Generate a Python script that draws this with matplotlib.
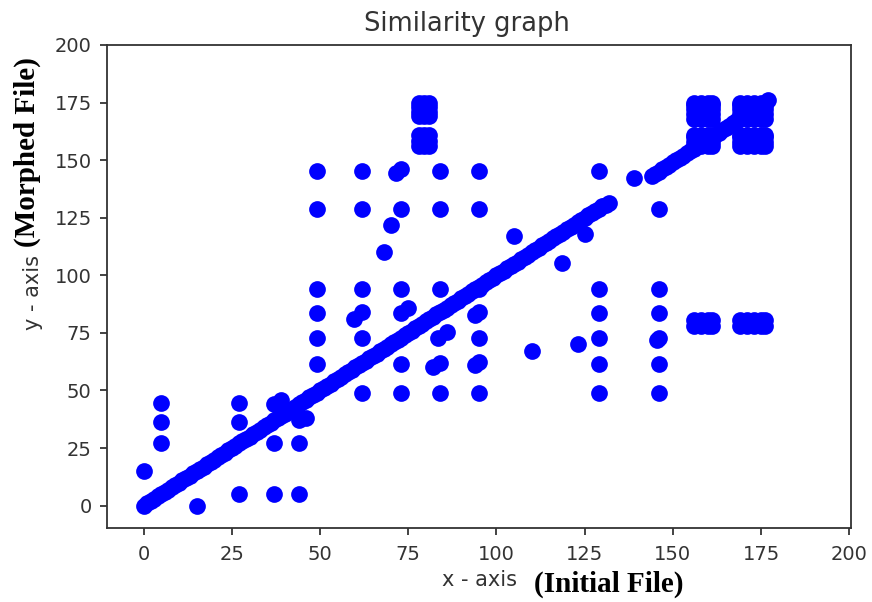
import itertools
import matplotlib
matplotlib.use("Agg")
import matplotlib.pyplot as plt

# ---------------- data ----------------
# main diagonal chain (identical lines), lower segment
diag_lo_x = [0, 1, 2, 3, 4, 5, 6, 7, 8, 9, 10, 11, 12, 13, 14, 15, 16, 17, 18, 19, 20,
             21, 22, 23, 24, 25, 26, 27, 28, 29, 30, 31, 32, 33, 34, 35, 36, 37, 38, 39,
             40, 41, 42, 43, 44, 45, 46, 47, 48, 49, 50, 51, 52, 53, 54, 55, 56, 57, 58,
             59, 60, 61, 62, 63, 64, 65, 66, 67, 68, 69, 70, 71, 72, 73, 74, 75, 76, 77,
             78, 79, 80, 81, 82, 83, 84, 85, 86, 87, 88, 89, 90, 91, 92, 93, 94, 95, 96,
             97, 98, 99, 100, 101, 102, 103, 104, 105, 106, 107, 108, 109, 110, 111, 112,
             113, 114, 115, 116, 117, 118, 119, 120, 121, 122, 123, 124, 125, 126, 127,
             128, 129, 130, 131, 132]
diag_lo_y = [0, 1, 2, 3, 4, 5, 6, 7, 8, 9, 10, 11, 12, 13, 14, 15, 16, 17, 18, 19, 20,
             21, 22, 23, 24, 25, 26, 27, 28, 29, 30, 31, 32, 33, 34, 35, 36, 37, 38, 39,
             40, 41, 42, 43, 44, 45, 46, 47, 48, 49, 50, 51, 52, 53, 54, 55, 56, 57, 58,
             59, 60, 61, 62, 63, 64, 65, 66, 67, 68, 69, 70, 71, 72, 73, 74, 75, 76, 77,
             78, 79, 80, 81, 82, 83, 84, 85, 86, 87, 88, 89, 90, 91, 92, 93, 94, 95, 96,
             97, 98, 99, 100, 101, 102, 103, 104, 105, 106, 107, 108, 109, 110, 111, 112,
             113, 114, 115, 116, 117, 118, 119, 120, 121, 122, 123, 124, 125, 126, 127,
             128, 129, 130, 130.5, 131.5]
# upper segment of the diagonal
diag_hi_x = [144, 145, 146, 147, 148, 149, 150, 151, 152, 153, 154, 155, 156, 157, 158,
             159, 160, 161, 162, 163, 164, 165, 166, 167, 168, 169, 170, 171, 172, 173,
             174, 175, 176, 177]
diag_hi_y = [143, 144, 145, 146, 147, 148, 149, 150, 151, 152, 153, 154, 155, 156, 157,
             158, 159, 160, 161, 162, 163, 164, 165, 166, 167, 168, 169, 170, 171, 172,
             173, 174, 175, 176]

# isolated similar-line points
pts_x = [0, 15,
         5, 5, 5,
         27, 27, 27,
         37, 39, 37, 37,
         44, 46, 44, 44,
         49, 49, 49, 49, 49, 49,
         62, 62, 62, 59.5, 62, 62, 62,
         71.5, 73, 73, 73, 73, 75, 73, 73,
         84, 84, 84, 83.5, 86, 82, 84, 84,
         95, 95, 95, 94, 95, 95, 94, 95, 95,
         68, 70, 105, 110, 118.5, 123, 125,
         129, 139, 146,
         129, 129, 129, 129, 129,
         146, 146, 146, 145.5, 146, 146]
pts_y = [15, 0,
         44.5, 36.5, 27,
         44.5, 36.5, 5,
         44, 46, 27, 5,
         37, 38, 27, 5,
         145.5, 129, 94, 83.5, 73, 61.5,
         145.5, 129, 94, 81, 84, 73, 49,
         144.5, 146, 129, 94, 83.5, 86, 61.5, 49,
         145.5, 129, 94, 73, 75.5, 60, 62, 49,
         145.5, 129, 94, 82.7, 84, 73, 61, 62.5, 49,
         110, 122, 117, 67, 105.5, 70, 118,
         145.5, 142.3, 129,
         94, 83.5, 73, 61.5, 49,
         94, 83.5, 73, 72, 61.5, 49]

# dense blocks of points (x values x y values)
block_80_x = [78, 79.5, 81]
block_80_top_y = [169, 171, 173, 175]
block_80_bot_y = [156, 158.5, 161]
block_158_x = [156, 158, 160, 161]
block_173_x = [169, 171, 173, 175, 176]
block_top_y = [168, 170, 172, 174, 175]
block_mid_y = [156, 158, 160, 161]
block_low_y = [78, 80.5]

xticks = [0, 25, 50, 75, 100, 125, 150, 175, 200]
yticks = [0, 25, 50, 75, 100, 125, 150, 175, 200]

# ---------------- assemble ----------------
xs = diag_lo_x + diag_hi_x + pts_x
ys = diag_lo_y + diag_hi_y + pts_y
for bx, by in [(block_80_x, block_80_top_y), (block_80_x, block_80_bot_y),
               (block_158_x, block_top_y), (block_158_x, block_mid_y), (block_158_x, block_low_y),
               (block_173_x, block_top_y), (block_173_x, block_mid_y), (block_173_x, block_low_y)]:
    for a, b in itertools.product(bx, by):
        xs.append(a)
        ys.append(b)

W, H = 872, 602
fig = plt.figure(figsize=(W / 100, H / 100), dpi=100)
ax = fig.add_axes([107 / W, (H - 528) / H, (851 - 107) / W, (528 - 45) / H])

ax.scatter(xs, ys, s=145, c="#0000ff", linewidths=0)

ax.set_xlim(-10.4, 200.5)
ax.set_ylim(-9.7, 200)
ax.set_xticks(xticks)
ax.set_yticks(yticks)
ax.tick_params(axis="both", labelsize=14, length=5, width=1.2, colors="#222222",
               labelcolor="#333333")
ax.tick_params(axis="x", pad=7)
ax.tick_params(axis="y", pad=6)
for sp in ax.spines.values():
    sp.set_linewidth(1.3)
    sp.set_color("#333333")

def fx(px):
    return px / W

def fy(py):
    return 1 - py / H

fig.text(fx(467), fy(31), "Similarity graph", fontsize=18.5, color="#333333",
         ha="center", va="baseline", family="DejaVu Sans")
fig.text(fx(479), fy(580), "x - axis", fontsize=15, color="#333333",
         ha="center", va="center", family="DejaVu Sans")
fig.text(fx(609), fy(584), "(Initial File)", fontsize=21, fontweight="bold",
         color="black", ha="center", va="center", family="Liberation Serif")
fig.text(fx(33), fy(292), "y - axis", fontsize=15, color="#333333", rotation=90,
         ha="center", va="center", family="DejaVu Sans")
fig.text(fx(27), fy(152), "(Morphed File)", fontsize=21, fontweight="bold",
         color="black", rotation=90, ha="center", va="center", family="Liberation Serif")

fig.savefig("out.png", dpi=100)
